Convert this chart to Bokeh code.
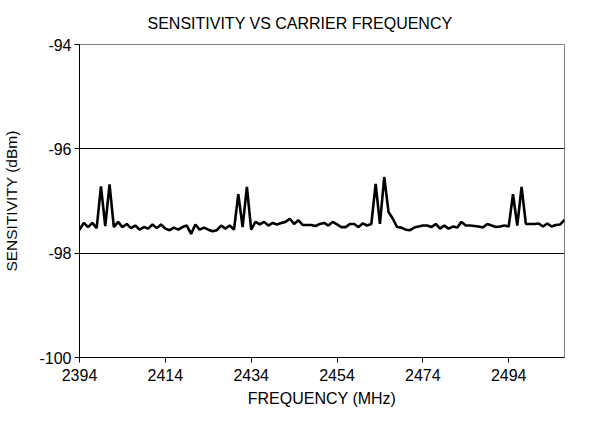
from bokeh.plotting import figure
from bokeh.models import Range1d, FixedTicker, ColumnDataSource
from bokeh.embed import file_html
from bokeh.resources import INLINE

# ---- data ----
freq_start = 2394
freq_end = 2507
freqs = list(range(freq_start, freq_end + 1))  # MHz, one point per MHz
sensitivity = [
    # 2394-2403
    -97.55, -97.42, -97.50, -97.42, -97.52, -96.72, -97.48, -96.68, -97.50, -97.40,
    # 2404-2413
    -97.50, -97.44, -97.52, -97.47, -97.55, -97.50, -97.53, -97.45, -97.52, -97.45,
    # 2414-2423
    -97.53, -97.56, -97.51, -97.55, -97.50, -97.47, -97.63, -97.45, -97.55, -97.51,
    # 2424-2433
    -97.55, -97.58, -97.56, -97.47, -97.53, -97.47, -97.55, -96.87, -97.50, -96.73,
    # 2434-2443
    -97.55, -97.40, -97.45, -97.40, -97.47, -97.42, -97.45, -97.42, -97.40, -97.34,
    # 2444-2453
    -97.44, -97.37, -97.46, -97.46, -97.46, -97.48, -97.44, -97.42, -97.47, -97.40,
    # 2454-2463
    -97.45, -97.50, -97.50, -97.44, -97.44, -97.50, -97.43, -97.47, -97.44, -96.67,
    # 2464-2473
    -97.44, -96.54, -97.21, -97.34, -97.50, -97.51, -97.55, -97.56, -97.51, -97.49,
    # 2474-2483
    -97.47, -97.47, -97.50, -97.44, -97.53, -97.47, -97.53, -97.49, -97.51, -97.40,
    # 2484-2493
    -97.47, -97.47, -97.48, -97.49, -97.51, -97.44, -97.47, -97.50, -97.49, -97.47,
    # 2494-2503
    -97.49, -96.87, -97.47, -96.73, -97.44, -97.44, -97.44, -97.43, -97.49, -97.43,
    # 2504-2507
    -97.49, -97.46, -97.45, -97.36,
]
x_ticks = [2394, 2414, 2434, 2454, 2474, 2494]
y_ticks = [-100, -98, -96, -94]
y_tick_labels = ["-100", "-98", "-96", "-94"]
y_min, y_max = -100, -94

title_text = "SENSITIVITY VS CARRIER FREQUENCY"
x_label = "FREQUENCY (MHz)"
y_label = "SENSITIVITY (dBm)"

FONT = "Liberation Sans"
FS = "16px"

src = ColumnDataSource(dict(f=freqs, s=sensitivity))

p = figure(width=597, height=420, output_backend="svg", toolbar_location=None,
           x_range=Range1d(freq_start, freq_end), y_range=Range1d(y_min, y_max),
           min_border_left=78, min_border_right=33, min_border_top=44,
           min_border_bottom=63)

p.title.text = title_text
p.title.align = "left"
p.title.offset = 68
p.title.standoff = 25
p.title.text_font = FONT
p.title.text_font_size = FS
p.title.text_font_style = "normal"
p.title.text_color = "black"

p.line("f", "s", source=src, line_color="black", line_width=2.6)

p.outline_line_color = "#808080"
p.outline_line_width = 1

for ax in (p.xaxis[0], p.yaxis[0]):
    ax.axis_line_color = "black"
    ax.major_tick_line_color = "black"
    ax.minor_tick_line_color = None
    ax.major_tick_in = 0
    ax.major_tick_out = 5
    ax.major_label_text_font = FONT
    ax.major_label_text_font_size = FS
    ax.major_label_text_color = "black"
    ax.axis_label_text_font = FONT
    ax.axis_label_text_font_size = FS
    ax.axis_label_text_font_style = "normal"
    ax.axis_label_text_color = "black"

p.xaxis.ticker = FixedTicker(ticks=x_ticks)
p.yaxis.ticker = FixedTicker(ticks=y_ticks)
p.yaxis.major_label_overrides = {float(v): t for v, t in zip(y_ticks, y_tick_labels)}
p.yaxis.axis_label_text_font_size = "15.5px"
p.xaxis.axis_label = x_label
p.yaxis.axis_label = y_label
p.xaxis.major_label_standoff = 6
p.yaxis.major_label_standoff = 3
p.xaxis.axis_label_standoff = 6
p.yaxis.axis_label_standoff = 16

p.xgrid.grid_line_color = None
p.ygrid.grid_line_color = "black"
p.ygrid.grid_line_width = 1

open("out.html", "w").write(file_html(p, INLINE))
